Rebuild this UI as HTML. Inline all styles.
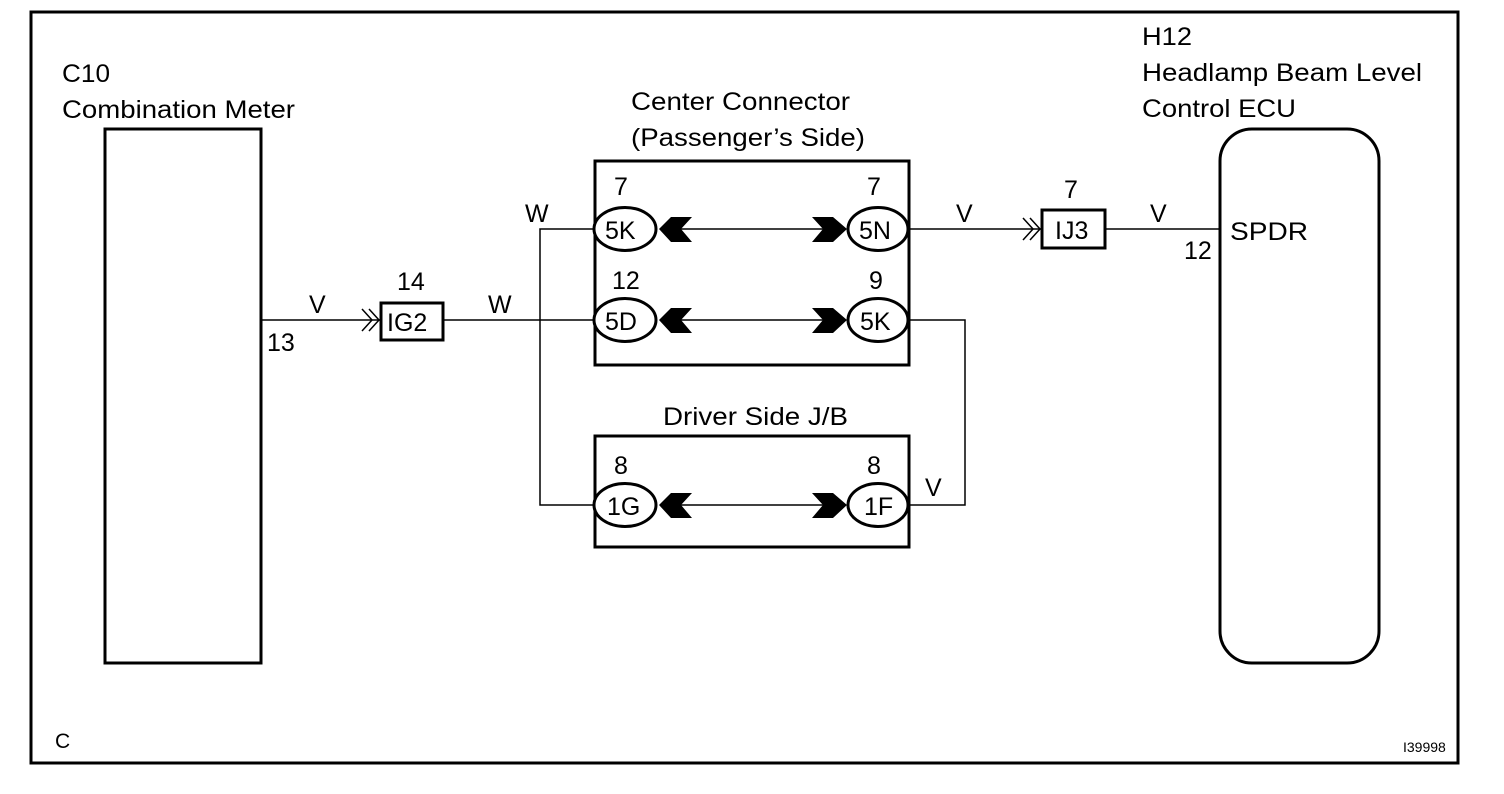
<!DOCTYPE html>
<html><head><meta charset="utf-8"><style>
html,body{margin:0;padding:0;background:#fff;}
svg{display:block;}
text{font-family:"Liberation Sans",Arial,sans-serif;font-size:25px;fill:#000;}
</style></head><body>
<svg width="1504" height="794" viewBox="0 0 1504 794">
<defs>
<g id="pair">
 <ellipse cx="625" cy="0" rx="31" ry="21.5" fill="#fff" stroke="#000" stroke-width="3"/>
 <ellipse cx="878" cy="0" rx="30" ry="21.5" fill="#fff" stroke="#000" stroke-width="3"/>
 <line x1="680" y1="0" x2="824" y2="0" stroke="#000" stroke-width="1.5"/>
 <polygon points="659,0 671,-12 692,-12 681,0 692,13 671,13" fill="#000"/>
 <polygon points="812,-12 833,-12 847,0 833,13 812,13 823,0" fill="#000"/>
</g>
<g id="chev" fill="none" stroke="#000" stroke-width="1.5">
 <polyline points="-18,-11 -8,0 -18,11"/><polyline points="-11,-11 -1,0 -11,11"/>
</g>
</defs>
<rect x="31" y="12" width="1427" height="751" fill="none" stroke="#000" stroke-width="3"/>
<rect x="105" y="129" width="156" height="534" fill="none" stroke="#000" stroke-width="3"/>
<rect x="1220" y="129" width="159" height="534" rx="32" fill="none" stroke="#000" stroke-width="3"/>
<rect x="595" y="161" width="314" height="204" fill="none" stroke="#000" stroke-width="3"/>
<rect x="595" y="436" width="314" height="111" fill="none" stroke="#000" stroke-width="3"/>
<g stroke="#000" stroke-width="1.5" fill="none">
 <line x1="261" y1="320" x2="380" y2="320"/>
 <line x1="444" y1="320" x2="594" y2="320"/>
 <polyline points="594,229 540,229 540,505 594,505"/>
 <polyline points="910,320 965,320 965,505 910,505"/>
 <line x1="910" y1="229" x2="1041" y2="229"/>
 <line x1="1106" y1="229" x2="1220" y2="229"/>
</g>
<use href="#chev" x="380" y="320"/>
<use href="#chev" x="1041" y="229"/>
<rect x="381" y="303" width="62" height="37" fill="#fff" stroke="#000" stroke-width="3"/>
<rect x="1042" y="210" width="63" height="38" fill="#fff" stroke="#000" stroke-width="3"/>
<use href="#pair" y="229"/>
<use href="#pair" y="320"/>
<use href="#pair" y="505"/>
<text x="62" y="82" textLength="48" lengthAdjust="spacingAndGlyphs">C10</text>
<text x="62" y="118" textLength="233" lengthAdjust="spacingAndGlyphs">Combination Meter</text>
<text x="631" y="110" textLength="219" lengthAdjust="spacingAndGlyphs">Center Connector</text>
<text x="631" y="146" textLength="234" lengthAdjust="spacingAndGlyphs">(Passenger’s Side)</text>
<text x="1142" y="45" textLength="50" lengthAdjust="spacingAndGlyphs">H12</text>
<text x="1142" y="81" textLength="280" lengthAdjust="spacingAndGlyphs">Headlamp Beam Level</text>
<text x="1142" y="117" textLength="154" lengthAdjust="spacingAndGlyphs">Control ECU</text>
<text x="663" y="425" textLength="185" lengthAdjust="spacingAndGlyphs">Driver Side J/B</text>
<text x="614" y="195">7</text>
<text x="867" y="195">7</text>
<text x="612" y="289">12</text>
<text x="869" y="289">9</text>
<text x="614" y="474">8</text>
<text x="867" y="474">8</text>
<text x="605" y="239">5K</text>
<text x="859" y="239">5N</text>
<text x="605" y="330">5D</text>
<text x="860" y="330">5K</text>
<text x="607" y="515">1G</text>
<text x="864" y="515">1F</text>
<text x="309" y="313">V</text>
<text x="267" y="351">13</text>
<text x="397" y="290">14</text>
<text x="387" y="331">IG2</text>
<text x="488" y="313">W</text>
<text x="525" y="222">W</text>
<text x="956" y="222">V</text>
<text x="925" y="496">V</text>
<text x="1064" y="198">7</text>
<text x="1055" y="239">IJ3</text>
<text x="1150" y="222">V</text>
<text x="1184" y="259">12</text>
<text x="1230" y="240" textLength="78" lengthAdjust="spacingAndGlyphs">SPDR</text>
<text x="55" y="748" style="font-size:21px">C</text>
<text x="1403" y="752" style="font-size:14px">I39998</text>
</svg>
</body></html>
